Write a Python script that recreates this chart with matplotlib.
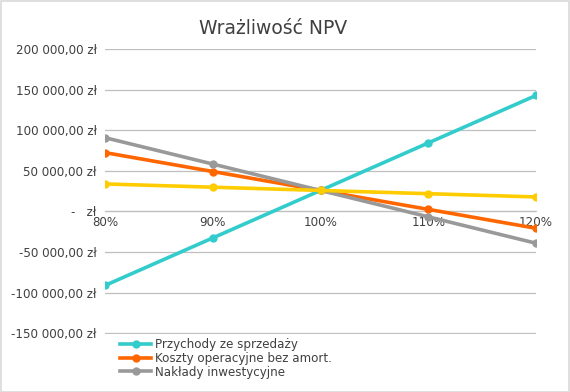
import numpy as np
import matplotlib.pyplot as plt
from matplotlib.patches import Rectangle
from matplotlib.ticker import FuncFormatter

# dane
kategorie = ['80%', '90%', '100%', '110%', '120%']
przychody = [-91200, -32700, 25800, 84300, 142800]
koszty = [72400, 49100, 25800, 2500, -20800]
naklady = [90800, 58300, 25800, -6700, -39200]
czwarta = [33800, 29800, 25800, 21800, 17800]

nazwy = ['Przychody ze sprzedaży', 'Koszty operacyjne bez amort.', 'Nakłady inwestycyjne', None]
kolory = ['#33CCCC', '#FF6600', '#999999', '#FFCC00']
serie = [przychody, koszty, naklady, czwarta]

plt.rcParams['font.family'] = ['DejaVu Sans']


def zl(v, pos):  # format osi Y jak w Excelu
    if v == 0:
        return '-   zł'
    s = '{:,.2f}'.format(v).replace(',', ' ').replace('.', ',')
    return s + ' zł'


fig = plt.figure(figsize=(5.7, 3.92), dpi=100)
ax = fig.add_axes([105 / 570, 1 - 334 / 392, 431 / 570, 285 / 392])

x = np.arange(len(kategorie))
for y, kol, naz in zip(serie, kolory, nazwy):
    ax.plot(x, y, color=kol, lw=2.6, marker='o', ms=5, label=naz, zorder=3)

ax.set_xlim(0, len(kategorie) - 1)
ax.set_ylim(-151000, 200000)
ax.set_yticks(np.arange(-150000, 200001, 50000))
ax.yaxis.set_major_formatter(FuncFormatter(zl))
ax.grid(axis='y', color='#BFBFBF', lw=0.9)
ax.set_axisbelow(True)

ax.set_xticks(x)
ax.set_xticklabels(kategorie)
for s in ['top', 'right', 'left']:
    ax.spines[s].set_visible(False)
ax.spines['bottom'].set_position(('data', 0))
ax.spines['bottom'].set_color('#BFBFBF')
ax.tick_params(axis='both', length=0, labelsize=8.6, colors='#404040')
ax.tick_params(axis='x', pad=3)
ax.tick_params(axis='y', pad=6)

fig.text(273 / 570, 1 - 29 / 392, 'Wrażliwość NPV', ha='center', va='center',
         fontsize=13.5, color='#404040')

uchwyty, etykiety = ax.get_legend_handles_labels()
leg = fig.legend(uchwyty[:3], etykiety[:3], loc='upper left',
                 bbox_to_anchor=(112 / 570, 1 - 330 / 392), frameon=False,
                 fontsize=8.6, handlelength=2.6, labelspacing=0.05,
                 handletextpad=0.3, borderpad=0.2)
for t in leg.get_texts():
    t.set_color('#404040')

fig.patches.append(Rectangle((0.001, 0.001), 0.997, 0.997, transform=fig.transFigure,
                             fill=False, ec='#D9D9D9', lw=1.2))

fig.savefig('out.png', dpi=100)
